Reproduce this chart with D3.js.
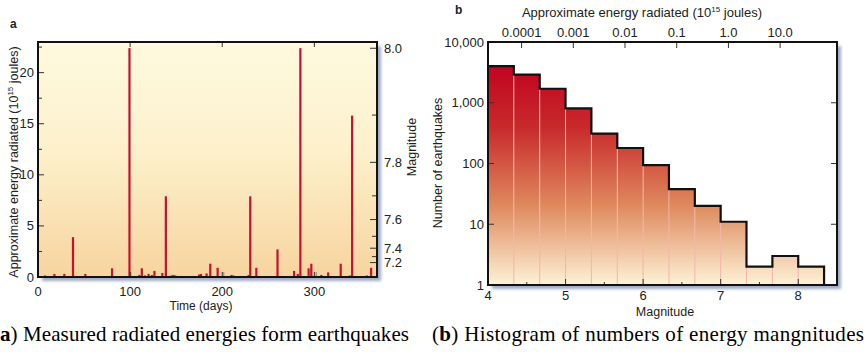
<!DOCTYPE html>
<html>
<head>
<meta charset="utf-8">
<script src="https://cdn.jsdelivr.net/npm/d3@7"></script>
<style>
body { margin: 0; background: #fff; }
svg text { font-family: "Liberation Sans", Arial, sans-serif; fill: #222; }
svg text.cap { font-family: "Liberation Serif", "Times New Roman", serif; fill: #000; }
</style>
</head>
<body>
<svg id="chart" width="867" height="354"></svg>
<script>
// (a) energy per earthquake over time
var days   = [7.6, 17.8, 22, 28.6, 38, 45.6, 51.4, 80.4, 99.3, 110, 112.7, 116, 120, 123.6, 126.4, 135, 138.8,
              145, 147, 149, 175, 177, 183, 187, 195, 210, 212, 228.6, 230.4, 234, 237, 242, 260, 278, 282,
              284.8, 293.8, 296.7, 307.6, 315, 328.6, 331, 338.4, 341, 357, 361.6];
var energy = [0.15, 0.3, 0.1, 0.3, 3.9, 0.1, 0.3, 0.85, 22.4, 0.2, 0.85, 0.15, 0.3, 0.2, 0.6, 0.4, 7.9,
              0.15, 0.2, 0.15, 0.25, 0.3, 0.35, 1.3, 0.9, 0.2, 0.15, 0.2, 7.9, 0.1, 0.9, 0.1, 2.7, 0.6, 0.3,
              22.4, 0.85, 1.3, 0.2, 0.45, 1.3, 0.1, 0.15, 15.8, 0.15, 0.9];
var greyDays   = [100.7, 201.5, 302];
var greyEnergy = [0.5, 0.5, 0.5];
var dayTicks    = [0, 100, 200, 300];
var energyTicks = [0, 5, 10, 15, 20];
var magTicks    = [7.2, 7.3, 7.4, 7.5, 7.6, 7.7, 7.8, 7.9, 8.0];
var magLabels   = [7.2, 7.4, 7.6, 7.8, 8.0];

// (b) histogram of magnitudes
var binLow  = [4, 4.333, 4.667, 5, 5.333, 5.667, 6, 6.333, 6.667, 7, 7.333, 7.667, 8];
var counts  = [4000, 2900, 1700, 810, 310, 180, 94, 38, 20, 11, 2, 3, 2];
var countTicks  = [1, 10, 100, 1000, 10000];
var joulesTicks = [0.0001, 0.001, 0.01, 0.1, 1.0, 10.0];
var joulesLabels = ["0.0001", "0.001", "0.01", "0.1", "1.0", "10.0"];
var magnitudeTicks = [4, 5, 6, 7, 8];
var binWidth = 1 / 3;

// energy (10^15 J) for a magnitude, and back
var energyOf = function(m) { return Math.pow(10, 1.5 * m - 10.65); };
var magOf = function(e) { return (Math.log10(e) + 10.65) / 1.5; };

var svg = d3.select("#chart");
var defs = svg.append("defs");

var bgGrad = defs.append("linearGradient").attr("id", "bgA")
  .attr("x1", 0).attr("y1", 0).attr("x2", 0).attr("y2", 1);
bgGrad.append("stop").attr("offset", "0").attr("stop-color", "#fef9df");
bgGrad.append("stop").attr("offset", "0.45").attr("stop-color", "#fdf1cc");
bgGrad.append("stop").attr("offset", "1").attr("stop-color", "#f7d49f");

var redGrad = defs.append("linearGradient").attr("id", "redB")
  .attr("gradientUnits", "userSpaceOnUse")
  .attr("x1", 0).attr("y1", 60).attr("x2", 0).attr("y2", 285);
redGrad.append("stop").attr("offset", "0").attr("stop-color", "#c1001f");
redGrad.append("stop").attr("offset", "0.3").attr("stop-color", "#c82a2b");
redGrad.append("stop").attr("offset", "0.65").attr("stop-color", "#df8a5e");
redGrad.append("stop").attr("offset", "1").attr("stop-color", "#fdf2d6");

var blur = defs.append("filter").attr("id", "shadow")
  .attr("x", "-5%").attr("y", "-5%").attr("width", "115%").attr("height", "115%");
blur.append("feGaussianBlur").attr("stdDeviation", 1.8);

var drawFrameShadow = function(x0, y0, x1, y1) {
  svg.append("rect")
     .attr("x", x0 + 4).attr("y", y0 + 4)
     .attr("width", x1 - x0).attr("height", y1 - y0)
     .attr("fill", "#9fabc4")
     .attr("filter", "url(#shadow)");
};

var tick = function(g, x1, y1, x2, y2) {
  g.append("line")
   .attr("x1", x1).attr("y1", y1).attr("x2", x2).attr("y2", y2)
   .attr("stroke", "#333").attr("stroke-width", 1);
};

// ---------- panel a ----------
var drawPanelA = function() {
  var left = 38, right = 377, top = 42, bottom = 277;
  var x = d3.scaleLinear().domain([0, 368]).range([left, right]);
  var y = d3.scaleLinear().domain([0, 23]).range([bottom, top]);

  drawFrameShadow(left, top, right, bottom);
  svg.append("rect")
     .attr("x", left).attr("y", top)
     .attr("width", right - left).attr("height", bottom - top)
     .attr("fill", "url(#bgA)");

  var g = svg.append("g");

  g.selectAll("line.grey")
   .data(greyDays)
   .enter()
   .append("line")
   .attr("class", "grey")
   .attr("x1", function(d) { return x(d); })
   .attr("x2", function(d) { return x(d); })
   .attr("y1", y(0))
   .attr("y2", function(d, i) { return y(greyEnergy[i]); })
   .attr("stroke", "#a29a90")
   .attr("stroke-width", 1.5);

  g.selectAll("line.bar")
   .data(days)
   .enter()
   .append("line")
   .attr("class", "bar")
   .attr("x1", function(d) { return x(d); })
   .attr("x2", function(d) { return x(d); })
   .attr("y1", y(0))
   .attr("y2", function(d, i) { return y(energy[i]); })
   .attr("stroke", "#c8102e")
   .attr("stroke-width", 2.2);

  // inward ticks
  energyTicks.forEach(function(v) { tick(g, left, y(v), left + 6, y(v)); });
  [2.5, 7.5, 12.5, 17.5, 22.5].forEach(function(v) { tick(g, left, y(v), left + 4, y(v)); });
  dayTicks.slice(1).forEach(function(v) {
    tick(g, x(v), top, x(v), top + 5);
    tick(g, x(v), bottom, x(v), bottom - 5);
  });
  magTicks.forEach(function(m) {
    var len = magLabels.indexOf(m) >= 0 ? 7 : 5;
    tick(g, right, y(energyOf(m)), right - len, y(energyOf(m)));
  });

  svg.append("rect")
     .attr("x", left).attr("y", top)
     .attr("width", right - left).attr("height", bottom - top)
     .attr("fill", "none").attr("stroke", "#111").attr("stroke-width", 2);

  svg.selectAll("text.ylabA")
     .data(energyTicks)
     .enter()
     .append("text")
     .attr("class", "ylabA")
     .attr("x", left - 4)
     .attr("y", function(d) { return y(d) + 4.5; })
     .attr("text-anchor", "end")
     .attr("font-size", 13)
     .text(function(d) { return d; });

  svg.selectAll("text.xlabA")
     .data(dayTicks)
     .enter()
     .append("text")
     .attr("class", "xlabA")
     .attr("x", function(d) { return x(d); })
     .attr("y", 296)
     .attr("text-anchor", "middle")
     .attr("font-size", 13)
     .text(function(d) { return d; });

  svg.selectAll("text.mlab")
     .data(magLabels)
     .enter()
     .append("text")
     .attr("class", "mlab")
     .attr("x", right + 7)
     .attr("y", function(d) { return y(energyOf(d)) + 4.5; })
     .attr("font-size", 13)
     .text(function(d) { return d.toFixed(1); });

  svg.append("text")
     .attr("x", 201).attr("y", 310)
     .attr("text-anchor", "middle")
     .attr("font-size", 12)
     .text("Time (days)");

  var yt = svg.append("text")
     .attr("transform", "translate(18,162) rotate(-90)")
     .attr("text-anchor", "middle")
     .attr("font-size", 12.5);
  yt.append("tspan").text("Approximate energy radiated (10");
  yt.append("tspan").attr("dy", -5).attr("font-size", 8).text("15");
  yt.append("tspan").attr("dy", 5).text(" joules)");

  svg.append("text")
     .attr("transform", "translate(416,147) rotate(-90)")
     .attr("text-anchor", "middle")
     .attr("font-size", 12.5)
     .text("Magnitude");

  svg.append("text")
     .attr("x", 10).attr("y", 28)
     .attr("font-size", 12).attr("font-weight", "bold")
     .text("a");
};

// ---------- panel b ----------
var drawPanelB = function() {
  var left = 488, right = 837, top = 42, bottom = 285;
  var x = d3.scaleLinear().domain([4, 8.5]).range([left, right]);
  var y = d3.scaleLog().domain([1, 10000]).range([bottom, top]);

  drawFrameShadow(left, top, right, bottom);
  svg.append("rect")
     .attr("x", left).attr("y", top)
     .attr("width", right - left).attr("height", bottom - top)
     .attr("fill", "#fff");

  var g = svg.append("g");

  g.selectAll("rect.bin")
   .data(binLow)
   .enter()
   .append("rect")
   .attr("class", "bin")
   .attr("x", function(d) { return x(d); })
   .attr("y", function(d, i) { return y(counts[i]); })
   .attr("width", function(d) { return x(d + binWidth) - x(d); })
   .attr("height", function(d, i) { return y(1) - y(counts[i]); })
   .attr("fill", "url(#redB)");

  // pale dividers between bins
  g.selectAll("line.div")
   .data(binLow.slice(1))
   .enter()
   .append("line")
   .attr("class", "div")
   .attr("x1", function(d) { return x(d); })
   .attr("x2", function(d) { return x(d); })
   .attr("y1", y(1))
   .attr("y2", function(d, i) { return y(Math.min(counts[i], counts[i + 1])); })
   .attr("stroke", "#f3b3a8")
   .attr("stroke-width", 1);

  // stepped outline
  var pts = binLow.map(function(d, i) { return [x(d), y(counts[i])]; });
  var last = binLow.length - 1;
  pts.push([x(binLow[last] + binWidth), y(counts[last])]);
  pts.push([x(binLow[last] + binWidth), y(1)]);
  g.append("path")
   .attr("d", d3.line().curve(d3.curveStepAfter)(pts))
   .attr("fill", "none")
   .attr("stroke", "#111")
   .attr("stroke-width", 2.2);

  // inward ticks
  countTicks.forEach(function(v) {
    tick(g, left, y(v), left + 6, y(v));
    tick(g, right, y(v), right - 6, y(v));
  });
  magnitudeTicks.forEach(function(v) { tick(g, x(v), bottom, x(v), bottom - 6); });
  [4.5, 5.5, 6.5, 7.5].forEach(function(v) { tick(g, x(v), bottom, x(v), bottom - 3); });
  joulesTicks.forEach(function(e) { tick(g, x(magOf(e)), top, x(magOf(e)), top + 6); });

  svg.append("rect")
     .attr("x", left).attr("y", top)
     .attr("width", right - left).attr("height", bottom - top)
     .attr("fill", "none").attr("stroke", "#111").attr("stroke-width", 2);

  svg.selectAll("text.ylabB")
     .data(countTicks)
     .enter()
     .append("text")
     .attr("class", "ylabB")
     .attr("x", left - 4)
     .attr("y", function(d) { return y(d) + 4.5; })
     .attr("text-anchor", "end")
     .attr("font-size", 13)
     .text(function(d) { return d3.format(",")(d); });

  svg.selectAll("text.xlabB")
     .data(magnitudeTicks)
     .enter()
     .append("text")
     .attr("class", "xlabB")
     .attr("x", function(d) { return x(d); })
     .attr("y", 300)
     .attr("text-anchor", "middle")
     .attr("font-size", 13)
     .text(function(d) { return d; });

  svg.selectAll("text.jlab")
     .data(joulesTicks)
     .enter()
     .append("text")
     .attr("class", "jlab")
     .attr("x", function(d) { return x(magOf(d)); })
     .attr("y", 37)
     .attr("text-anchor", "middle")
     .attr("font-size", 13)
     .text(function(d, i) { return joulesLabels[i]; });

  var tt = svg.append("text")
     .attr("x", 642).attr("y", 17)
     .attr("text-anchor", "middle")
     .attr("font-size", 13);
  tt.append("tspan").text("Approximate energy radiated (10");
  tt.append("tspan").attr("dy", -5).attr("font-size", 8).text("15");
  tt.append("tspan").attr("dy", 5).text(" joules)");

  svg.append("text")
     .attr("x", 665).attr("y", 316)
     .attr("text-anchor", "middle")
     .attr("font-size", 12.5)
     .text("Magnitude");

  svg.append("text")
     .attr("transform", "translate(442,163) rotate(-90)")
     .attr("text-anchor", "middle")
     .attr("font-size", 12.5)
     .text("Number of earthquakes");

  svg.append("text")
     .attr("x", 455).attr("y", 14)
     .attr("font-size", 12).attr("font-weight", "bold")
     .text("b");
};

drawPanelA();
drawPanelB();

// captions
var capA = svg.append("text").attr("class", "cap")
  .attr("x", 0).attr("y", 341).attr("font-size", 21)
  .attr("textLength", 409).attr("lengthAdjust", "spacing");
capA.append("tspan").attr("font-weight", "bold").text("a");
capA.append("tspan").text(") Measured radiated energies form earthquakes");

var capB = svg.append("text").attr("class", "cap")
  .attr("x", 432).attr("y", 341).attr("font-size", 21)
  .attr("textLength", 432).attr("lengthAdjust", "spacing");
capB.append("tspan").text("(");
capB.append("tspan").attr("font-weight", "bold").text("b");
capB.append("tspan").text(") Histogram of numbers of energy mangnitudes");
</script>
</body>
</html>
